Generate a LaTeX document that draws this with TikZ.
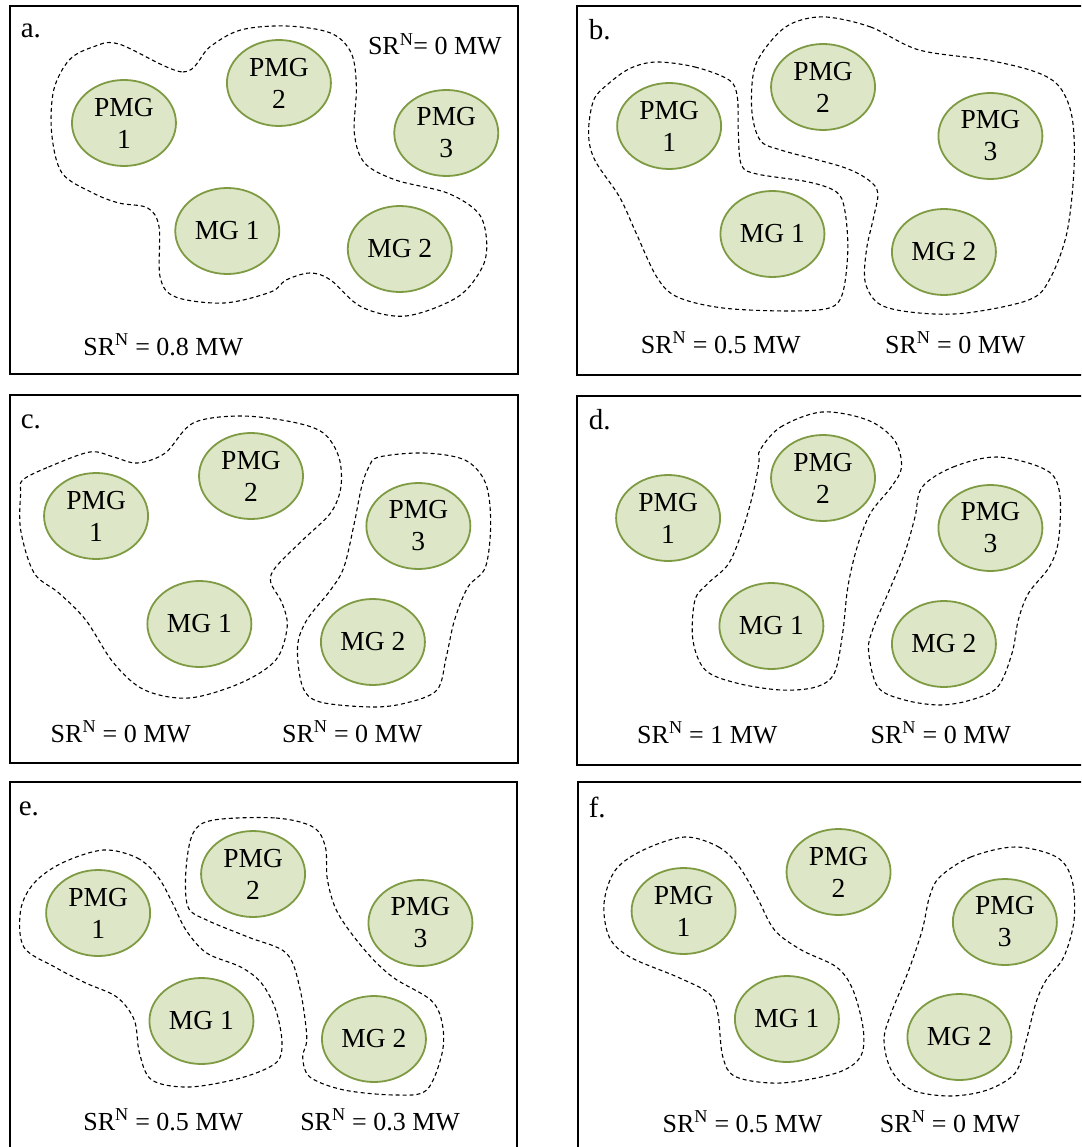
\documentclass[tikz,border=0pt]{standalone}
\usepackage{fontspec}
\setmainfont{Liberation Serif}
\usetikzlibrary{shapes.geometric}
\definecolor{mgfill}{HTML}{DDE7C7}
\definecolor{mgline}{HTML}{7E9B43}
\tikzset{
  panel/.style={draw=black, line width=1.8pt},
  grid/.style={ellipse, draw=mgline, fill=mgfill, line width=1.8pt,
    minimum width=104pt, minimum height=86pt, inner sep=0pt, align=center,
    font=\fontsize{27.5}{32}\selectfont},
  zone/.style={draw=black, line width=1.1pt, dash pattern=on 4pt off 3pt},
  tag/.style={anchor=base west, inner sep=0pt, font=\fontsize{29}{32}\selectfont},
  srlab/.style={anchor=base, inner sep=0pt, font=\fontsize{26}{30}\selectfont},
  leftcol/.style={xscale=1.033},
  rightcol/.style={xshift=-17.82pt, xscale=1.033}
}
\newcommand{\srn}[1]{SR\textsuperscript{N} = #1}
\begin{document}
\begin{tikzpicture}[x=1pt, y=-1pt]
\clip (0,0) rectangle (1081,1147);
\fill[white] (0,0) rectangle (1081,1147);

% ---------- panel frames ----------
\draw[panel] (10,6) rectangle (518,374);
\draw[panel] (577,6) rectangle (1095,375);
\draw[panel] (10,395) rectangle (518,763);
\draw[panel] (577,396) rectangle (1095,765);
\draw[panel] (10,782) rectangle (517,1160);
\draw[panel] (578,782) rectangle (1095,1160);

% ---------- panel a ----------
\begin{scope}[leftcol]
\node[tag] (ta) at (20,38) {a.};
\draw[zone] plot[smooth cycle, tension=0.55] coordinates {
 (115,44) (177,72) (203,47) (233,30) (277,26) (320,33) (340,53) (345,87)
 (343,133) (353,163) (383,180) (433,193) (463,213) (471,240) (467,267)
 (443,297) (393,316) (350,307) (320,280) (300,273) (277,280) (262,292)
 (217,303) (170,297) (155,277) (154,227) (143,208) (115,203) (90,193)
 (60,173) (50,133) (52,90) (67,60) (90,47)};
\node[grid] (a-p1) at (120,123) {PMG\\1};
\node[grid] (a-p2) at (270,83) {PMG\\2};
\node[grid] (a-p3) at (432,133) {PMG\\3};
\node[grid] (a-m1) at (220,231) {MG 1};
\node[grid] (a-m2) at (387,249) {MG 2};
\node[srlab] (a-sr1) at (421,55) {SR\textsuperscript{N}= 0 MW};
\node[srlab] (a-sr2) at (158,355) {\srn{0.8 MW}};
\end{scope}

% ---------- panel b ----------
\begin{scope}[rightcol]
\node[tag] (tb) at (587,40) {b.};
\draw[zone] plot[smooth cycle, tension=0.55] coordinates {
 (653,62) (690,67) (723,80) (731,97) (732,133) (735,165) (750,174)
 (800,182) (827,192) (835,210) (838,250) (833,293) (820,308) (780,311)
 (717,308) (673,297) (653,277) (633,233) (617,197) (593,160) (587,133)
 (592,100) (607,83) (628,68)};
\draw[zone] plot[smooth cycle, tension=0.55] coordinates {
 (817,17) (860,27) (907,50) (973,60) (1020,72) (1043,87) (1055,117)
 (1057,167) (1050,233) (1033,280) (1013,300) (953,313) (907,313)
 (870,305) (855,283) (856,250) (863,217) (867,193) (858,180) (833,167)
 (773,150) (753,140) (745,110) (748,67) (767,37) (787,22)};
\node[grid] (b-p1) at (665,126) {PMG\\1};
\node[grid] (b-p2) at (814,87) {PMG\\2};
\node[grid] (b-p3) at (976,136) {PMG\\3};
\node[grid] (b-m1) at (765,234) {MG 1};
\node[grid] (b-m2) at (931,252) {MG 2};
\node[srlab] (b-sr1) at (715,353) {\srn{0.5 MW}};
\node[srlab] (b-sr2) at (942,353) {\srn{0 MW}};
\end{scope}

% ---------- panel c ----------
\begin{scope}[leftcol]
\node[tag] (tc) at (20,428) {c.};
\draw[zone] plot[smooth cycle, tension=0.55] coordinates {
 (22,480) (47,467) (87,452) (110,457) (133,463) (160,453) (187,423)
 (233,416) (283,422) (313,433) (328,457) (330,487) (320,513) (293,540)
 (267,567) (262,582) (273,603) (278,627) (267,660) (233,683) (183,698)
 (140,690) (110,663) (83,620) (57,593) (33,573) (20,530) (20,493)};
\draw[zone] plot[smooth cycle, tension=0.55] coordinates {
 (367,457) (410,453) (450,460) (470,483) (475,523) (470,567) (453,587)
 (440,620) (432,657) (423,690) (393,703) (360,707) (310,702) (293,687)
 (288,647) (297,620) (320,590) (333,567) (343,523) (350,487) (357,467)};
\node[grid] (c-p1) at (93,516) {PMG\\1};
\node[grid] (c-p2) at (243,476) {PMG\\2};
\node[grid] (c-p3) at (405,526) {PMG\\3};
\node[grid] (c-m1) at (193,624) {MG 1};
\node[grid] (c-m2) at (361,642) {MG 2};
\node[srlab] (c-sr1) at (117,742) {\srn{0 MW}};
\node[srlab] (c-sr2) at (341,742) {\srn{0 MW}};
\end{scope}

% ---------- panel d ----------
\begin{scope}[rightcol]
\node[tag] (td) at (587,429) {d.};
\draw[zone] plot[smooth cycle, tension=0.55] coordinates {
 (753,450) (773,427) (813,412) (857,420) (883,440) (890,467) (880,487)
 (860,513) (847,547) (838,587) (833,633) (825,673) (807,687) (773,690)
 (730,683) (700,670) (688,640) (690,600) (703,583) (723,563) (737,527)
 (747,490) (752,462)};
\draw[zone] plot[smooth cycle, tension=0.55] coordinates {
 (910,487) (940,467) (983,457) (1030,470) (1043,493) (1042,540)
 (1033,567) (1013,593) (1003,620) (997,653) (983,687) (957,700)
 (927,705) (893,700) (867,687) (858,650) (863,627) (877,593) (893,553)
 (903,517)};
\node[grid] (d-p1) at (664,518) {PMG\\1};
\node[grid] (d-p2) at (814,478) {PMG\\2};
\node[grid] (d-p3) at (976,528) {PMG\\3};
\node[grid] (d-m1) at (764,626) {MG 1};
\node[grid] (d-m2) at (931,644) {MG 2};
\node[srlab] (d-sr1) at (702,743) {\srn{1 MW}};
\node[srlab] (d-sr2) at (928,743) {\srn{0 MW}};
\end{scope}

% ---------- panel e ----------
\begin{scope}[leftcol]
\node[tag] (te) at (18,815) {e.};
\draw[zone] plot[smooth cycle, tension=0.55] coordinates {
 (100,850) (133,858) (153,877) (167,903) (180,930) (200,953) (233,967)
 (253,983) (267,1010) (273,1043) (267,1063) (233,1078) (183,1087)
 (147,1080) (135,1053) (130,1020) (113,997) (83,983) (53,967) (23,947)
 (20,910) (33,883) (60,863)};
\draw[zone] plot[smooth cycle, tension=0.55] coordinates {
 (207,820) (267,818) (303,827) (315,847) (317,880) (327,913) (353,950)
 (380,977) (417,1000) (428,1023) (428,1053) (413,1090) (383,1095)
 (333,1090) (300,1077) (293,1057) (297,1037) (290,987) (277,953)
 (240,937) (200,920) (182,907) (180,870) (187,833)};
\node[grid] (e-p1) at (95,913) {PMG\\1};
\node[grid] (e-p2) at (245,874) {PMG\\2};
\node[grid] (e-p3) at (407,923) {PMG\\3};
\node[grid] (e-m1) at (195,1021) {MG 1};
\node[grid] (e-m2) at (362,1039) {MG 2};
\node[srlab] (e-sr1) at (158,1130) {\srn{0.5 MW}};
\node[srlab] (e-sr2) at (368,1130) {\srn{0.3 MW}};
\end{scope}

% ---------- panel f ----------
\begin{scope}[rightcol]
\node[tag] (tf) at (587,817) {f.};
\draw[zone] plot[smooth cycle, tension=0.55] coordinates {
 (680,837) (713,847) (733,867) (750,897) (767,930) (793,950) (827,967)
 (843,990) (853,1030) (850,1057) (827,1073) (773,1083) (730,1077)
 (717,1057) (712,1013) (703,993) (673,977) (627,957) (607,937)
 (602,903) (613,870) (640,850)};
\draw[zone] plot[smooth cycle, tension=0.55] coordinates {
 (927,877) (957,857) (1000,847) (1040,857) (1055,880) (1057,920)
 (1047,957) (1030,980) (1020,1003) (1010,1043) (1000,1073) (973,1090)
 (937,1096) (900,1090) (880,1070) (873,1040) (880,1013) (897,970)
 (910,930) (917,897)};
\node[grid] (f-p1) at (679,911) {PMG\\1};
\node[grid] (f-p2) at (829,872) {PMG\\2};
\node[grid] (f-p3) at (990,922) {PMG\\3};
\node[grid] (f-m1) at (779,1019) {MG 1};
\node[grid] (f-m2) at (946,1037) {MG 2};
\node[srlab] (f-sr1) at (736,1132) {\srn{0.5 MW}};
\node[srlab] (f-sr2) at (937,1132) {\srn{0 MW}};
\end{scope}
\end{tikzpicture}
\end{document}
